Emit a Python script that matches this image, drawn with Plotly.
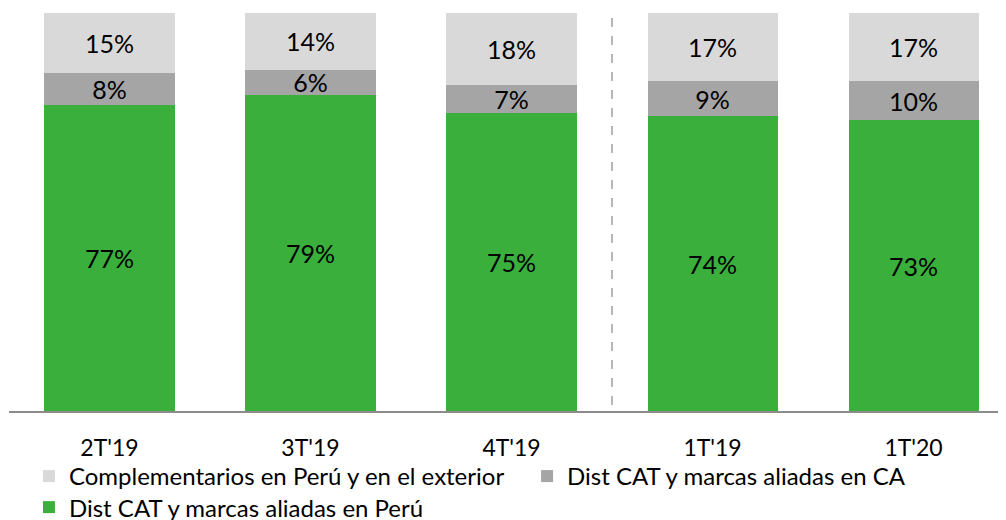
import plotly.graph_objects as go

categories = ["2T'19", "3T'19", "4T'19", "1T'19", "1T'20"]
peru = [77, 79.4, 75, 74, 73]
ca = [8, 6.3, 7, 9, 10]
compl = [15, 14.3, 18, 17, 17]

series = [
    ("Dist CAT y marcas aliadas en Perú", peru, "#3AAF3C", "legend2"),
    ("Dist CAT y marcas aliadas en CA", ca, "#A5A5A5", "legend"),
    ("Complementarios en Perú y en el exterior" + "\u00a0" * 3, compl, "#D9D9D9", "legend"),
]

FONT = "Lato"
fig = go.Figure()
for name, vals, col, leg in series:
    fig.add_trace(go.Bar(
        x=categories, y=vals, name=name, legend=leg,
        marker=dict(color=col, line=dict(width=0)),
        texttemplate="%{y:.0f}%", textposition="inside", insidetextanchor="middle",
        textangle=0, constraintext="none",
        textfont=dict(family=FONT, size=25, color="#000000"),
        hoverinfo="skip",
    ))

fig.add_shape(type="line", xref="x", yref="y", x0=2.5, x1=2.5, y0=1.5, y1=99,
              line=dict(color="#A0A0A0", width=1.5, dash="dash"))

legend_common = dict(orientation="h", traceorder="reversed", x=0.02, xanchor="left",
                     yanchor="top", bgcolor="rgba(0,0,0,0)",
                     font=dict(family=FONT, size=24, color="#000000"), itemclick=False)

fig.update_layout(
    barmode="stack", bargap=0.353,
    width=998, height=512,
    margin=dict(l=1, r=0, t=5, b=109, autoexpand=False),
    plot_bgcolor="white", paper_bgcolor="white",
    xaxis=dict(range=[-0.5, 4.46], showline=True, linecolor="#8C8C8C", linewidth=2,
               ticks="", showgrid=False, ticklabelstandoff=15,
               tickfont=dict(family=FONT, size=23, color="#000000")),
    yaxis=dict(range=[0, 100], visible=False, showgrid=False),
    legend=dict(y=-0.108, **legend_common),
    legend2=dict(y=-0.186, **legend_common),
    showlegend=True,
)
fig.write_html("out.html")
